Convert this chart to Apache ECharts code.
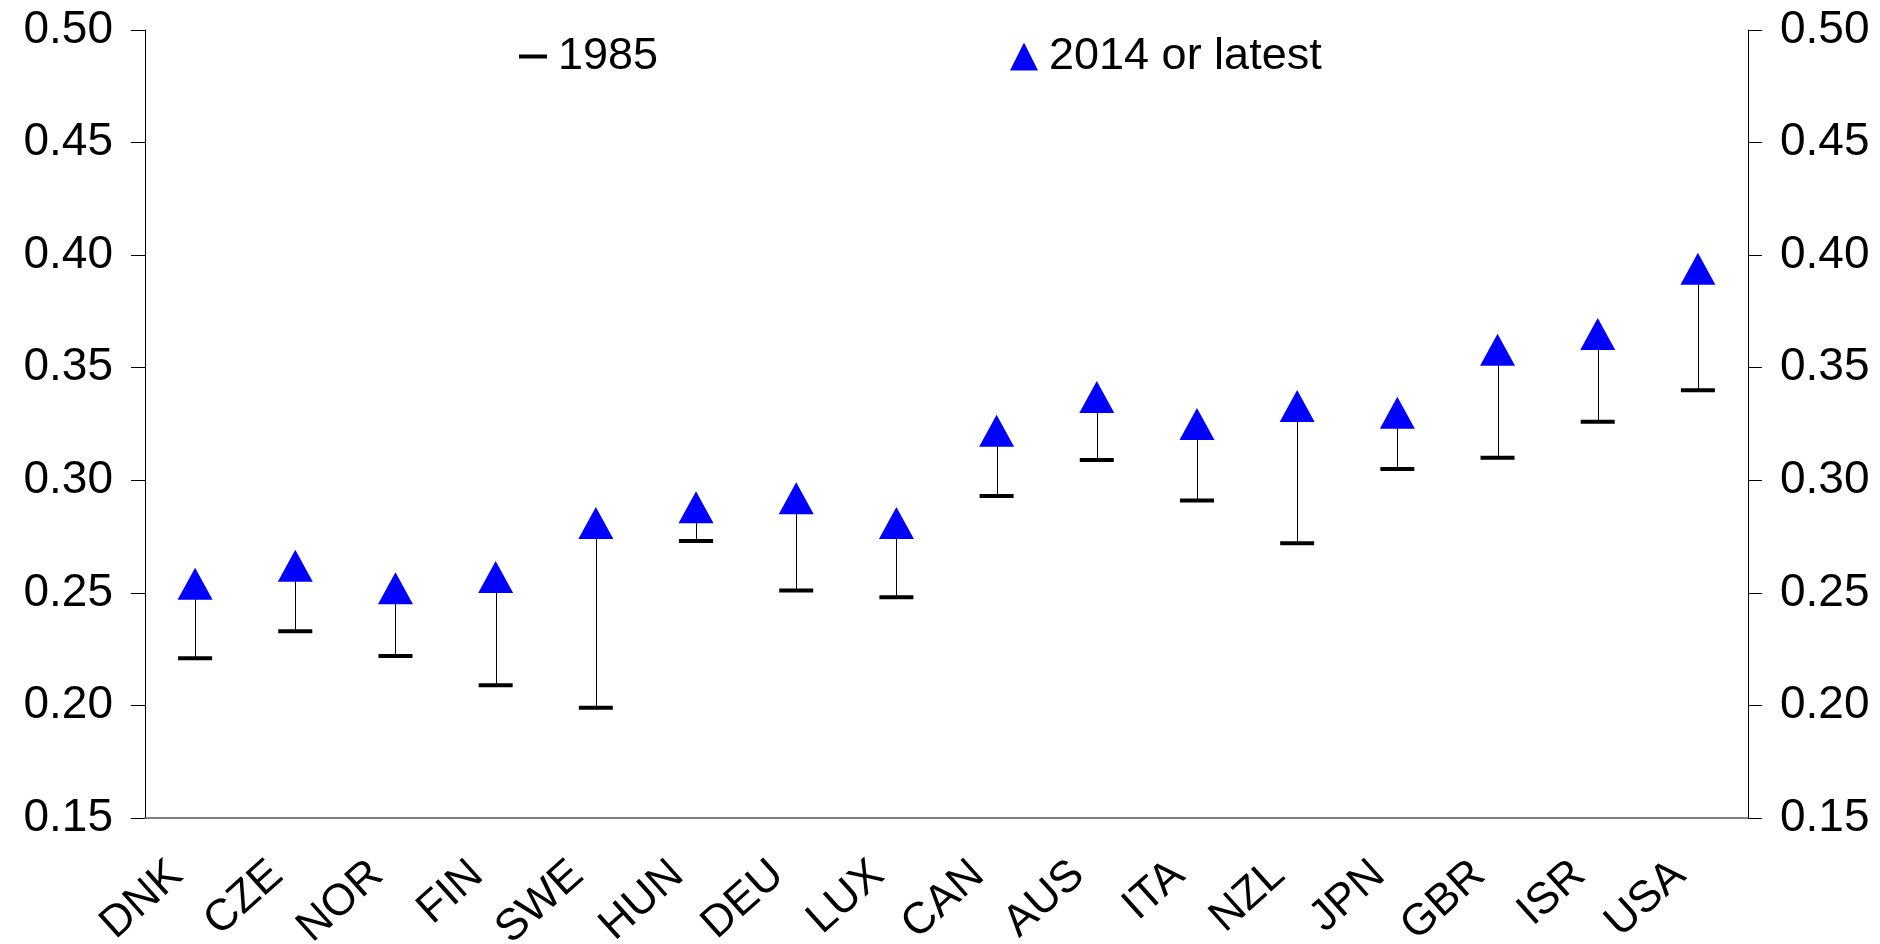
<!DOCTYPE html>
<html>
<head>
<meta charset="utf-8">
<script src="https://cdn.jsdelivr.net/npm/echarts@6/dist/echarts.min.js"></script>
<style>
html,body{margin:0;padding:0;background:#fff;}
#chart{width:1880px;height:944px;}
</style>
</head>
<body>
<div id="chart"></div>
<script>
const categories = ['DNK','CZE','NOR','FIN','SWE','HUN','DEU','LUX','CAN','AUS','ITA','NZL','JPN','GBR','ISR','USA'];
const values1985 = [0.221,0.233,0.222,0.209,0.199,0.273,0.251,0.248,0.293,0.309,0.291,0.272,0.305,0.310,0.326,0.340];
const values2014 = [0.254,0.262,0.252,0.257,0.281,0.288,0.292,0.281,0.322,0.337,0.325,0.333,0.330,0.358,0.365,0.394];
const seriesNames = ['1985','2014 or latest'];

const FONT = "'Liberation Sans', Arial, sans-serif";
const chart = echarts.init(document.getElementById('chart'), null, {renderer:'canvas'});

const yAxisCommon = {
  type:'value', min:0.15, max:0.5, interval:0.05,
  splitLine:{show:false},
  axisLine:{show:true, lineStyle:{color:'#000', width:1}},
  axisTick:{show:true, length:14, lineStyle:{color:'#000', width:1}},
  axisLabel:{fontSize:46, fontFamily:FONT, color:'#000', margin:32,
    formatter:v=>v.toFixed(2)}
};

chart.setOption({
  animation:false,
  backgroundColor:'#fff',
  grid:{left:145, right:132, top:30, bottom:126, containLabel:false, outerBoundsMode:'none'},
  legend:[
    {data:[{name:seriesNames[0], icon:'rect'}], left:519, top:34, padding:0,
     itemWidth:28, itemHeight:4,
     textStyle:{fontSize:45, fontFamily:FONT, color:'#000', padding:[0,0,0,6]}},
    {data:[{name:seriesNames[1], icon:'triangle'}], left:1010, top:34, padding:0,
     itemWidth:28, itemHeight:28,
     textStyle:{fontSize:45, fontFamily:FONT, color:'#000', padding:[0,0,0,6]}}
  ],
  xAxis:{
    type:'category', data:categories, boundaryGap:true,
    axisLine:{show:true, lineStyle:{color:'#595959', width:1.5}},
    axisTick:{show:false},
    axisLabel:{fontSize:44, fontFamily:FONT, color:'#000', rotate:42, margin:34, interval:0,
      padding:[0,25,0,0]}
  },
  yAxis:[
    Object.assign({position:'left'}, yAxisCommon),
    Object.assign({position:'right'}, yAxisCommon)
  ],
  series:[
    {
      type:'custom', name:'stems', silent:true,
      data: categories.map((c,i)=>[i, values1985[i], values2014[i]]),
      encode:{x:0, y:[1,2]},
      renderItem:function(params, api){
        const p1 = api.coord([api.value(0), api.value(1)]);
        const p2 = api.coord([api.value(0), api.value(2)]);
        const x = Math.round(p1[0]) + 0.5;
        return {type:'line', shape:{x1:x, y1:p1[1], x2:x, y2:p2[1]},
          style:{stroke:'#000', lineWidth:1}};
      },
      z:1
    },
    {
      type:'scatter', name:seriesNames[0], data:values1985,
      symbol:'rect', symbolSize:[34,4],
      itemStyle:{color:'#000', opacity:1}, z:2
    },
    {
      type:'scatter', name:seriesNames[1], data:values2014,
      symbol:'triangle', symbolSize:[35,32],
      itemStyle:{color:'#0000FF', opacity:1}, z:3
    }
  ]
});
</script>
</body>
</html>
